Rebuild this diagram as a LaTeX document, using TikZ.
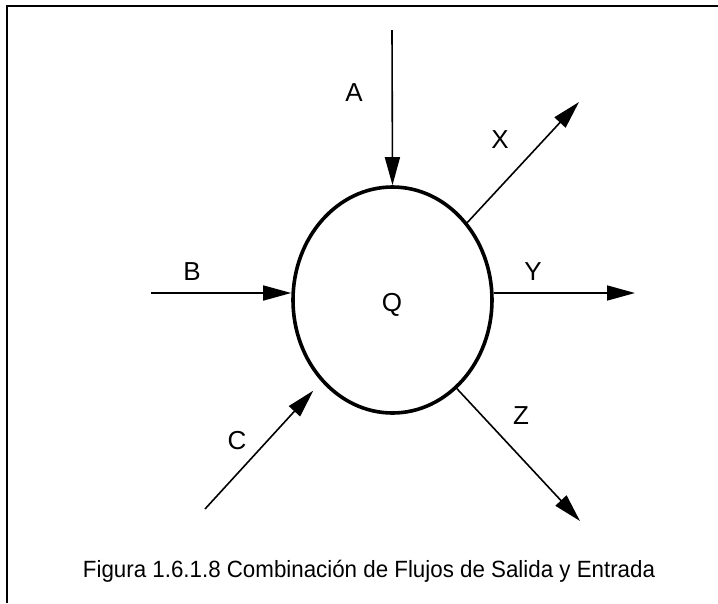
\documentclass[tikz,border=0pt]{standalone}
\usepackage{fontspec}
\setmainfont{Liberation Sans}
\usepackage{tikz}
\usetikzlibrary{arrows.meta,shapes.geometric}

\begin{document}
\begin{tikzpicture}[x=1pt, y=-1pt,
    flow/.style={line width=1.6pt, -{Triangle[length=28pt, width=15pt]}},
    lbl/.style={font=\fontsize{26}{28}\selectfont, inner sep=0pt},
    tank/.style={ellipse, draw, line width=3.6pt, minimum width=199pt, minimum height=226pt, inner sep=0pt}]
    \useasboundingbox (0,0) rectangle (718,603);

    % --- Frame (top and left edges) ---
    \draw[line width=1.3pt] (718,6) -- (7,6) -- (7,603);

    % --- Central tank ---
    \node[tank] (tank) at (392.5,300) {};
    \node[lbl] (q) at (392,305) {Q};

    % --- Free ends of the flows ---
    \coordinate (Asrc) at (392,30);
    \coordinate (Bsrc) at (151,293);
    \coordinate (Csrc) at (205,509);
    \coordinate (Xdst) at (579,102);
    \coordinate (Ydst) at (635,293);
    \coordinate (Zdst) at (580,521);

    % --- Inflows ---
    \draw[flow] (Asrc) -- (tank.north);
    \draw[flow] (Bsrc) -- (Bsrc -| tank.west);
    \draw[flow, shorten >=12pt] (Csrc) -- (tank.229);

    % --- Outflows ---
    \draw[flow] (tank.46) -- (Xdst);
    \draw[flow] (tank.east |- Ydst) -- (Ydst);
    \draw[flow] (tank.306) -- (Zdst);

    % --- Flow labels ---
    \node[lbl] (la) at (354,93) {A};
    \node[lbl] (lb) at (192,272) {B};
    \node[lbl] (lc) at (237,441) {C};
    \node[lbl] (lx) at (500,140) {X};
    \node[lbl] (ly) at (533,272) {Y};
    \node[lbl] (lz) at (521,416) {Z};

    % --- Caption ---
    \node[anchor=base, inner sep=0pt, xscale=0.95, font=\fontsize{23.5}{25}\selectfont] (caption) at (369,577)
        {Figura 1.6.1.8 Combinación de Flujos de Salida y Entrada};
\end{tikzpicture}
\end{document}
